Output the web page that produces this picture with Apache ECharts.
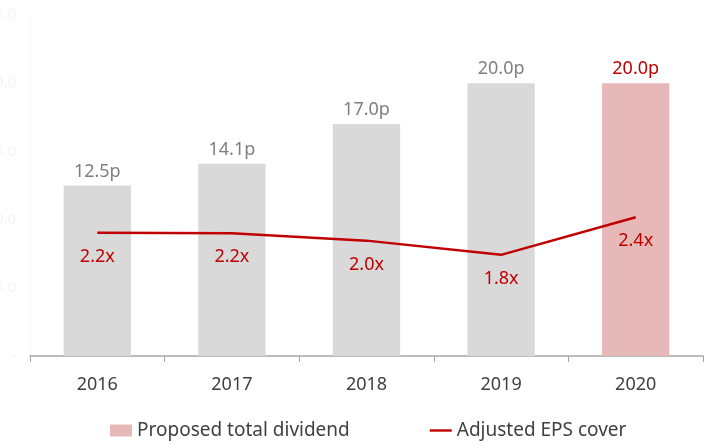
<!DOCTYPE html>
<html>
<head>
<meta charset="utf-8">
<script src="https://cdn.jsdelivr.net/npm/echarts@6/dist/echarts.min.js"></script>
<style>
  html, body { margin: 0; padding: 0; background: #fff; }
  #main { width: 706px; height: 445px; }
</style>
</head>
<body>
<div id="main"></div>
<script>
// data
var years = ['2016', '2017', '2018', '2019', '2020'];
var dividend = [12.5, 14.1, 17.0, 20.0, 20.0];
var epsCover = [2.17, 2.16, 2.03, 1.78, 2.44];
var leftTicks = [0, 5, 10, 15, 20, 25];

var chart = echarts.init(document.getElementById('main'), null, { renderer: 'canvas' });
var font = '"Noto Sans", "Open Sans", sans-serif';

// last bar is highlighted pink, others grey
var barData = dividend.map(function (v, i) {
    var last = i === dividend.length - 1;
    return {
        value: v,
        itemStyle: { color: last ? '#e6b8b7' : '#d9d9d9' },
        label: { color: last ? '#c00000' : '#7f7f7f' }
    };
});

var option = {
    animation: false,
    textStyle: { fontFamily: font },
    grid: { left: 30, right: 3, top: 15, bottom: 89, containLabel: false, outerBoundsMode: 'none' },
    legend: {
        bottom: 0,
        left: 105,
        itemGap: 80,
        itemWidth: 22,
        itemHeight: 12,
        textStyle: { fontSize: 19, color: '#404040', fontFamily: font },
        data: [
            { name: 'Proposed total dividend', icon: 'rect', itemStyle: { color: '#e6b8b7' } },
            { name: 'Adjusted EPS cover', icon: 'path://M0,0H24V2.6H0Z', itemStyle: { color: '#c00000', opacity: 1 } }
        ]
    },
    xAxis: {
        type: 'category',
        data: years,
        axisLine: { lineStyle: { color: '#a6a6a6', width: 1.5 } },
        axisTick: { show: true, length: 6, lineStyle: { color: '#a6a6a6' } },
        axisLabel: { color: '#404040', fontSize: 18, margin: 20 }
    },
    yAxis: [
        {
            type: 'value',
            min: leftTicks[0],
            max: leftTicks[leftTicks.length - 1],
            interval: 5,
            axisLine: { show: true, lineStyle: { color: '#f4f4f4' } },
            axisTick: { show: false },
            splitLine: { show: false },
            axisLabel: {
                color: '#f3f3f3',
                fontSize: 15,
                margin: 14,
                formatter: function (v) { return v === 0 ? '-' : v.toFixed(1); }
            }
        },
        {
            type: 'value',
            min: 0,
            max: 6,
            show: false,
            splitLine: { show: false }
        }
    ],
    series: [
        {
            name: 'Proposed total dividend',
            type: 'bar',
            barWidth: '50%',
            data: barData,
            label: {
                show: true,
                position: 'top',
                distance: 5,
                fontSize: 18,
                formatter: function (p) { return p.value.toFixed(1) + 'p'; }
            }
        },
        {
            name: 'Adjusted EPS cover',
            type: 'line',
            yAxisIndex: 1,
            data: epsCover,
            symbol: 'circle',
            symbolSize: 0.01,
            showSymbol: true,
            lineStyle: { color: '#c00000', width: 2.5 },
            itemStyle: { color: '#c00000' },
            label: {
                show: true,
                position: 'bottom',
                distance: 15,
                color: '#c00000',
                fontSize: 18,
                formatter: function (p) { return p.value.toFixed(1) + 'x'; }
            }
        }
    ]
};

chart.setOption(option);
</script>
</body>
</html>
